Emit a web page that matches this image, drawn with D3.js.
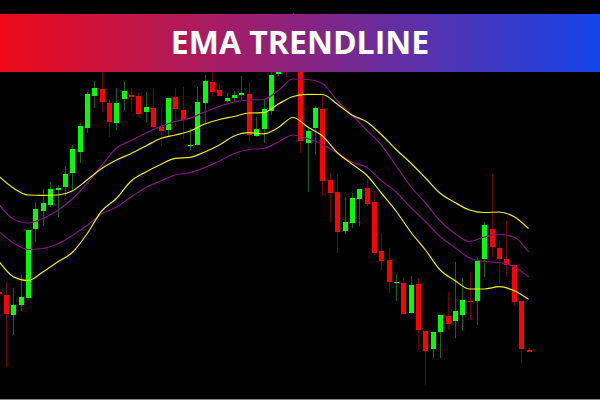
<!DOCTYPE html>
<html>
<head>
<meta charset="utf-8">
<script src="https://cdn.jsdelivr.net/npm/d3@7/dist/d3.min.js"></script>
<style>
  html, body { margin: 0; padding: 0; background: #000; }
  svg { display: block; }
</style>
</head>
<body>
<svg id="chart" width="600" height="400"></svg>
<script>
// ---- DATA ----
const title = "EMA TRENDLINE";
// bar index (first bar partly off-screen on the left)
const barIndex = d3.range(-1, 72);
const opens  = [208.5,205.3,185,195,202.3,271,289.3,295,310,313.3,327.3,348.3,372.3,404.3,411.3,397.3,377.3,401.3,405,404.3,388,392,372.7,369.7,403,390,354,355,396.7,418,410,398.7,402.3,405.3,406.3,364,371.3,389.3,426,450,432,455,357,372.3,391,320.3,308,269,277,300.7,312,298.3,249,240.5,217,217,187,216,169.5,150.7,168.3,184.3,178.7,185.3,199.3,199,241,271,251.7,241,234.7,199.3,150];
const highs  = [210,218.3,212,226,270,298.3,310.7,318.3,315,334,355,377.3,408.3,419,430,400,411.7,419.3,412.3,406.7,408.3,411.7,394,402,412.3,413.3,372,413.3,425,432,417.3,406.7,409,424,418.3,383.3,401,430,452,460,487,465,371.7,394.3,404.3,326.7,326,303.3,307.3,311,321,309,266.7,252,225.7,221.7,224,222,169.5,168,185.3,208.3,238.3,222.3,228.3,243.5,278.3,326,259,279,234.7,199.3,152.3];
const lows   = [205,133.3,165,189.3,202.3,258.3,274.3,293.3,283.3,304,310,336.7,366.7,392.3,388.3,362.7,370,389,387.7,383.3,377.3,373.3,354,364,374,361,350,355,376.7,403.3,404.3,396,399.3,400,358.3,363.3,356.7,385,424,423,429,347.3,307.7,345,304.3,278.3,247.3,266,272.3,274.3,294.3,245,230,207,199,185.7,186.7,150,115,141.7,142.3,170,162.3,169,180,175,223.3,243.3,216,223.3,194,137.3,148.3];
const closes = [206.5,186,195,203.3,270,290.7,297.3,311,312,326.3,351,374,406,412.3,397.7,378,397.3,408.7,403.3,386,393,373.3,368.7,402,391,380,355,398,419,408,404.3,402,404.7,407.3,364.7,371,391,425.3,445,430,460,359,369.3,392.3,319.3,307,268.3,278,302.3,311,296.3,247.3,238.7,218.5,218,186.5,215,170.5,149,168,185.3,176.3,188.7,200,198,239.5,275,253.3,240.7,234.7,198.3,151,148.3];

// EMA band lines, read every second bar
const emaIndex = d3.range(-1, 72, 2);
const emaYellowA = [324,312,305,304.7,305,309,320,331.5,340,346.5,354,361.5,365,369,376,380.5,383.5,387,387.3,396,403.5,405.7,405.5,396,385,378.3,365.5,350.5,337,322,306.7,297.5,290,287.5,288,283.5,271.5];
const emaPurpleA = [296,281,277,281.5,289.5,301,316.5,334.5,352,359.5,367,373.5,378.5,381.7,388,393.5,397.8,400,400.5,409.5,421,420.5,416.5,399.5,385,370,355,334.3,313.5,297,279,266.5,258.5,263,265.5,263,248];
const emaPurpleB = [269,257,250.5,251.5,256,264.5,274.5,286,293,303,312.5,319,325,327.3,332.5,339,346.5,350.5,351.5,358,365,361.5,355.5,347,338,332.7,319.5,308,292.5,278.5,263.3,252.5,242,238.5,237.5,233.5,223];
const emaYellowB = [239,223.3,219.5,228,238,247.5,266,289,301.5,319,328,335.5,341.7,342.7,348,355,364,367.3,366.2,372.5,382.5,373,364,347.5,336,325,307,289,268,250,230,219.5,211,211,213.3,209.5,200.7];

// ---- CHART ----
const W = 600, H = 400;
const svg = d3.select("#chart");
svg.append("rect").attr("width", W).attr("height", H).attr("fill", "#000");

const x = d3.scaleLinear().domain([0, 71]).range([6, 528.5]);
const y = d3.scaleLinear().domain([100, 500]).range([400, 0]);
const bodyW = 5.4;

const bars = barIndex.map((d, i) => ({
  i: d, o: opens[i], h: highs[i], l: lows[i], c: closes[i], up: closes[i] >= opens[i]
}));

const g = svg.append("g").attr("shape-rendering", "crispEdges");
g.selectAll("line.wick").data(bars).join("line")
  .attr("class", "wick")
  .attr("x1", d => Math.round(x(d.i)) + 0.5)
  .attr("x2", d => Math.round(x(d.i)) + 0.5)
  .attr("y1", d => y(d.h))
  .attr("y2", d => y(d.l))
  .attr("stroke", d => d.up ? "#0a6a0a" : "#780000")
  .attr("stroke-width", 1);

g.selectAll("rect.body").data(bars).join("rect")
  .attr("class", "body")
  .attr("x", d => Math.round(x(d.i)) + 0.5 - bodyW / 2)
  .attr("width", bodyW)
  .attr("y", d => y(Math.max(d.o, d.c)))
  .attr("height", d => Math.max(1.2, Math.abs(y(d.o) - y(d.c))))
  .attr("fill", d => d.up ? "#00ff00" : "#ff0000");

const lineGen = d3.line()
  .x(d => x(d[0]))
  .y(d => y(d[1]))
  .curve(d3.curveMonotoneX);

const series = [
  { v: emaPurpleA, color: "#841084" },
  { v: emaPurpleB, color: "#841084" },
  { v: emaYellowA, color: "#f0f000" },
  { v: emaYellowB, color: "#f0f000" }
];
svg.append("g").selectAll("path").data(series).join("path")
  .attr("d", s => lineGen(emaIndex.map((k, j) => [k, s.v[j]])))
  .attr("fill", "none")
  .attr("stroke", s => s.color)
  .attr("stroke-width", 1.2);

// bottom border
svg.append("rect").attr("x", 0).attr("y", 399).attr("width", W).attr("height", 1).attr("fill", "#8a8a8a");

// ---- BANNER ----
const defs = svg.append("defs");
const grad = defs.append("linearGradient").attr("id", "bannerGrad")
  .attr("x1", "0%").attr("x2", "100%").attr("y1", "0%").attr("y2", "0%");
grad.append("stop").attr("offset", "0%").attr("stop-color", "#ee0a1a");
grad.append("stop").attr("offset", "50%").attr("stop-color", "#8a2380");
grad.append("stop").attr("offset", "100%").attr("stop-color", "#1444ea");

svg.append("rect").attr("x", 0).attr("y", 14).attr("width", W).attr("height", 58)
  .attr("fill", "url(#bannerGrad)");

svg.append("text")
  .attr("x", 300).attr("y", 53.5)
  .attr("text-anchor", "middle")
  .attr("fill", "#ffffff")
  .attr("font-family", "'Open Sans', 'Noto Sans', sans-serif")
  .attr("font-weight", 700)
  .attr("font-size", 32)
  .text(title);
</script>
</body>
</html>
